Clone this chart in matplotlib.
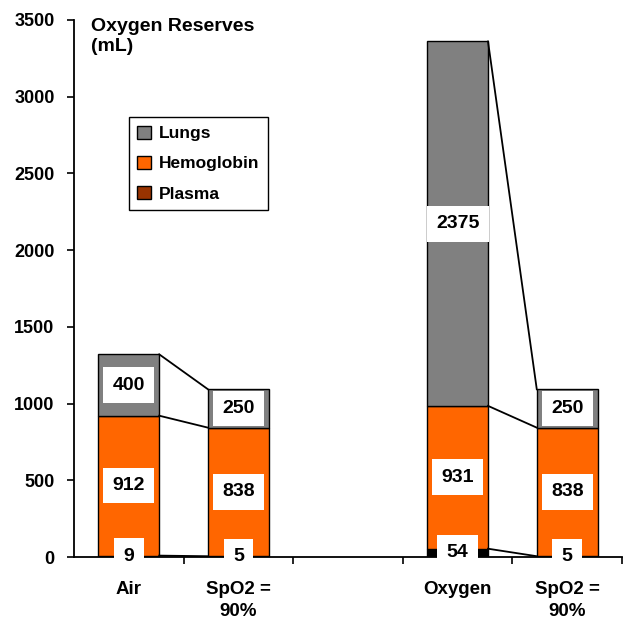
import matplotlib
matplotlib.use("Agg")
import matplotlib.pyplot as plt
from matplotlib.patches import Patch
import numpy as np

plt.rcParams['font.family'] = ['Liberation Sans', 'DejaVu Sans']
plt.rcParams['font.weight'] = 'bold'

categories = ["Air", "SpO2 =\n90%", "", "Oxygen", "SpO2 =\n90%"]
plasma = [9, 5, None, 54, 5]
hemoglobin = [912, 838, None, 931, 838]
lungs = [400, 250, None, 2375, 250]
# pairs of bars joined by series lines
links = [(0, 1), (3, 4)]

series = [("Plasma", plasma, "#000000", "#993300"),
          ("Hemoglobin", hemoglobin, "#FF6600", "#FF6600"),
          ("Lungs", lungs, "#808080", "#808080")]

fig = plt.figure(figsize=(6.23, 6.19), dpi=100)
ax = fig.add_axes([74 / 623, 62 / 619, 548 / 623, 537 / 619])

width = 0.555
idx = [i for i, v in enumerate(plasma) if v is not None]
x = np.array(idx, dtype=float)
bottom = np.zeros(len(idx))
tops = {}
for name, vals, color, _ in series:
    v = np.array([vals[i] for i in idx], dtype=float)
    ax.bar(x, v, width, bottom=bottom, color=color, edgecolor="black", linewidth=1.0, zorder=2)
    for xi, b, h in zip(x, bottom, v):
        ax.text(xi, b + h / 2, f"{int(h)}", ha="center", va="center", fontsize=14,
                fontweight="bold", zorder=4,
                bbox=dict(boxstyle="square,pad=0.48", facecolor="white", edgecolor="none"))
    bottom = bottom + v
    tops[name] = dict(zip(idx, bottom))

for a, b in links:
    for name in tops:
        ax.plot([a + width / 2, b - width / 2], [tops[name][a], tops[name][b]],
                color="black", linewidth=1.3, zorder=3)

ax.set_xlim(-0.5, len(categories) - 0.5)
ax.set_ylim(0, 3500)
ax.set_yticks(np.arange(0, 3501, 500))
ax.set_xticks(range(len(categories)))
ax.set_xticklabels(categories, fontsize=13.5, fontweight="bold", linespacing=1.4)
ax.set_xticks(np.arange(0.5, len(categories), 1.0), minor=True)
ax.tick_params(axis="x", which="major", length=0, pad=17)
ax.tick_params(axis="x", which="minor", length=5, width=1.2, direction="out")
ax.tick_params(axis="y", length=5, width=1.2, direction="out", labelsize=13, pad=9)
for lab in ax.get_yticklabels():
    lab.set_fontweight("bold")

for s in ["top", "right"]:
    ax.spines[s].set_visible(False)
for s in ["left", "bottom"]:
    ax.spines[s].set_linewidth(1.3)

ax.text(0.031, 1.003, "Oxygen Reserves\n(mL)", transform=ax.transAxes, ha="left", va="top",
        fontsize=14, fontweight="bold", linespacing=1.2)

handles = [Patch(facecolor=lc, edgecolor="black", linewidth=1.0, label=name)
           for name, _, _, lc in reversed(series)]
leg = ax.legend(handles=handles, loc="upper left", bbox_to_anchor=(0.100, 0.819),
                borderaxespad=0, fancybox=False, framealpha=1, edgecolor="black",
                prop={"size": 12.5, "weight": "bold"}, labelspacing=0.85,
                handlelength=0.75, handleheight=0.75, handletextpad=0.5, borderpad=0.5)
leg.get_frame().set_linewidth(1.0)

fig.savefig("out.png", dpi=100)
